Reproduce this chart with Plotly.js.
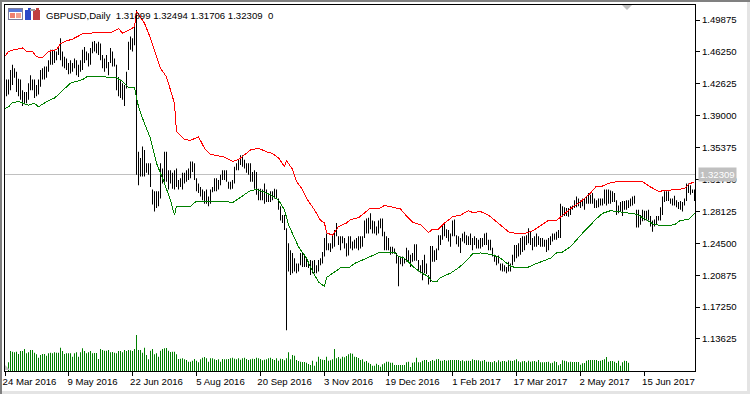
<!DOCTYPE html>
<html><head><meta charset="utf-8">
<script src="https://cdn.plot.ly/plotly-3.0.1.min.js"></script>
<style>
html,body{margin:0;padding:0;background:#fff;width:750px;height:394px;overflow:hidden}
#chart{position:absolute;left:0;top:0;width:750px;height:394px}
.js-line,.shapelayer path{shape-rendering:crispEdges}
#deco{position:absolute;left:0;top:0;pointer-events:none}
</style></head><body>
<div id="chart"></div>
<svg id="deco" width="750" height="394" shape-rendering="crispEdges">
<rect x="0" y="0" width="750" height="2" fill="#808080"/>
<rect x="0" y="0" width="2" height="394" fill="#808080"/>
<rect x="747" y="2" width="3" height="392" fill="#e4e4e4"/>
<rect x="2" y="391" width="748" height="3" fill="#e4e4e4"/>
<rect x="8.5" y="8.5" width="14" height="11" fill="#fff" stroke="#7c7c9c"/>
<rect x="9" y="9" width="13" height="3" fill="#5a78d8"/>
<rect x="10" y="13" width="5" height="5" fill="#f08070"/>
<rect x="16" y="13" width="5" height="5" fill="#f4a090"/>
<rect x="25" y="10" width="6" height="10" fill="#2a48c8"/>
<rect x="28" y="8" width="3" height="3" fill="#2a48c8"/>
<rect x="33" y="10" width="7" height="10" fill="#c04040"/>
<rect x="36" y="8" width="3" height="3" fill="#c04040"/>
<rect x="30" y="9" width="5" height="2" fill="#9a9a9a"/>
<polygon points="622,5 632,5 627,10" fill="#c0c0c0" shape-rendering="auto"/>
<polygon points="5,370 10,370 5,365" fill="#c0c0c0" shape-rendering="auto"/>
</svg>
<script>
// values in thousandths of a dollar; bar index 1..345
const highs=[1431,1431,1442,1448,1444,1440,1432,1431,1419,1417,
1417,1427,1436,1431,1431,1425,1431,1442,1444,1446,
1446,1453,1465,1465,1465,1463,1468,1478,1463,1457,
1455,1450,1453,1450,1455,1453,1448,1453,1465,1468,
1463,1461,1467,1474,1475,1472,1474,1472,1459,1455,
1459,1451,1467,1463,1455,1448,1434,1431,1427,1425,
1440,1474,1480,1478,1491,1510,
1349,1342,1355,1351,1336,1336,1336,1306,1304,1304,
1304,1336,1330,1349,1349,1328,1328,1325,1328,1330,
1317,1319,1325,1325,1328,1330,1338,1338,1336,1319,
1313,1309,1306,1304,1306,1298,1306,1309,1319,1319,
1317,1323,1328,1328,1328,1315,1315,1317,1332,1336,
1340,1345,1345,1340,1336,1336,
1336,1326,1328,1326,1307,1307,1306,1313,1306,1300,
1304,1304,1307,1306,1296,1287,1277,1277,1262,1245,
1237,1234,1228,1222,1222,1234,1234,1232,1228,1224,
1226,1225,1226,1220,1226,1228,1235,1251,1256,1245,
1245,1254,1260,1268,1253,1253,1253,1251,1245,1253,
1253,1247,1249,1251,1253,1253,1253,1271,1273,1274,
1279,1271,1270,1264,1271,1273,1273,1258,1253,1251,
1241,1241,1239,1234,1230,1230,1230,1228,1240,1237,
1232,1234,1244,1244,1226,1220,1226,1232,1222,1209,
1242,1242,1237,1239,1254,1254,1266,1268,1261,1260,
1256,1271,1272,1254,1253,1251,1256,1258,1254,1253,
1256,1251,1253,1251,1249,1251,1251,1256,1257,1249,
1249,1240,1232,1230,1231,
1222,1222,1220,1218,1224,1222,1232,1243,1243,1245,
1251,1253,1253,1254,1262,1258,1251,1253,1256,1253,
1251,1251,1249,1249,1251,1253,1256,1256,1258,1260,
1290,1287,1286,1285,1285,1287,1288,1294,1298,1296,
1294,1296,1296,1298,1302,1300,1302,1296,1294,1296,
1296,1296,1306,1306,1306,1305,1304,1302,1294,1288,
1292,1293,1293,1294,1294,1296,1298,1299,1283,1283,
1277,1283,1282,1282,1283,1276,1271,1272,1276,1276,
1286,1298,1304,1304,1304,1296,1296,1299,1294,1292,
1293,1292,1296,1313,1313,1311,1306,1306];
const lows=[1412,1414,1419,1425,1433,1417,1412,1408,1401,1403,
1404,1408,1419,1419,1410,1412,1414,1423,1431,1431,
1433,1440,1448,1448,1450,1453,1459,1453,1446,1444,
1442,1437,1438,1440,1444,1436,1434,1440,1442,1450,
1453,1446,1448,1461,1463,1461,1459,1453,1444,1440,
1444,1436,1450,1446,1446,1419,1412,1410,1408,1401,
1421,1442,1465,1463,1470,1323,
1311,1321,1321,1321,1325,1323,1309,1289,1281,1285,
1287,1296,1313,1315,1315,1306,1313,1307,1306,1309,
1306,1309,1306,1313,1315,1317,1319,1326,1317,1304,
1302,1298,1294,1290,1290,1287,1290,1303,1304,1304,
1306,1311,1317,1317,1315,1307,1306,1307,1313,1328,
1328,1334,1332,1330,1325,1323,
1315,1315,1307,1300,1294,1294,1294,1290,1292,1292,
1292,1294,1296,1296,1283,1271,1268,1260,1146,1213,
1209,1211,1213,1211,1213,1220,1218,1218,1218,1217,
1209,1211,1211,1211,1213,1220,1222,1230,1237,1237,
1235,1239,1241,1253,1243,1237,1245,1239,1230,1231,
1239,1237,1239,1239,1237,1239,1241,1251,1256,1256,
1261,1256,1256,1254,1256,1262,1253,1237,1237,1237,
1232,1233,1233,1222,1196,1221,1219,1222,1224,1224,
1218,1224,1225,1225,1213,1211,1203,1211,1210,1198,
1201,1224,1224,1226,1237,1243,1249,1253,1251,1247,
1241,1253,1253,1244,1241,1234,1247,1245,1243,1243,
1243,1237,1243,1239,1239,1239,1241,1243,1243,1237,
1237,1230,1224,1220,1222,
1214,1213,1213,1211,1213,1213,1220,1224,1228,1230,
1232,1235,1237,1243,1245,1243,1237,1241,1241,1243,
1241,1241,1241,1235,1237,1243,1247,1249,1249,1251,
1251,1275,1276,1276,1275,1277,1283,1285,1286,1287,
1285,1287,1283,1290,1290,1290,1290,1285,1285,1286,
1288,1288,1290,1288,1290,1290,1292,1292,1277,1279,
1281,1276,1283,1283,1285,1287,1288,1290,1263,1263,
1266,1270,1271,1271,1271,1264,1258,1264,1267,1271,
1271,1277,1292,1293,1293,1290,1288,1288,1286,1284,
1283,1281,1288,1293,1302,1300,1302,1293];
const barIndex=highs.map((_,k)=>k+1);

const upperIdx=[0,2,5,9,11,14,16,19,22,26,28,31,34,39,44,48,53,57,59,62,65,66,70,73,76,78,81,85,86,90,93,97,100,103,110,114,117,123,127,131,134,137,140,141,144,146,149,151,155,158,160,161,164,167,171,173,177,180,183,187,190,194,198,201,204,208,212,214,217,220,224,228,232,234,238,242,245,248,252,256,260,264,268,272,276,279,284,288,293,296,298,302,306,311,315,319,323,327,331,335,340,342,345];
const upperVal=[1457,1463,1465,1467,1463,1463,1457,1456,1463,1465,1472,1475,1477,1483,1484,1484,1484,1489,1484,1487,1491,1509,1495,1478,1457,1444,1434,1404,1372,1363,1362,1366,1353,1346,1343,1338,1340,1351,1353,1349,1347,1342,1332,1339,1329,1315,1306,1296,1283,1271,1268,1257,1254,1264,1268,1272,1274,1280,1285,1284,1288,1286,1284,1276,1269,1266,1257,1261,1261,1268,1275,1277,1282,1280,1281,1277,1271,1266,1258,1256,1256,1259,1265,1271,1271,1277,1286,1292,1302,1310,1309,1313,1315,1315,1315,1315,1309,1304,1305,1306,1307,1312,1315];
const lowerIdx=[0,2,4,7,12,15,17,21,25,29,33,39,41,45,51,56,59,62,65,66,67,70,73,76,79,83,85,86,89,93,96,102,106,110,114,118,123,126,129,133,137,140,142,144,147,151,154,157,160,161,164,168,172,175,180,184,188,195,197,200,204,208,212,214,216,218,223,227,231,234,238,244,248,253,256,261,266,273,276,279,283,288,292,296,299,303,307,316,320,325,331,335,338,342,345];
const lowerVal=[1398,1400,1405,1406,1402,1404,1400,1406,1410,1419,1427,1431,1434,1435,1434,1433,1429,1422,1422,1410,1400,1381,1364,1336,1319,1294,1277,1287,1287,1287,1293,1293,1292,1293,1291,1297,1305,1306,1304,1300,1294,1283,1266,1256,1241,1228,1213,1201,1196,1206,1211,1217,1217,1222,1227,1231,1235,1235,1230,1228,1219,1212,1207,1201,1201,1206,1211,1217,1225,1233,1234,1232,1228,1219,1217,1217,1222,1228,1234,1235,1241,1254,1264,1273,1279,1282,1281,1278,1273,1266,1265,1266,1271,1272,1279];

// tick volume, relative units, bar index 2..311
const volumes=[26,60,58,56,58,51,60,60,66,53,
56,63,63,55,50,40,48,51,51,46,
53,55,53,56,55,55,70,60,51,53,
53,53,43,53,56,43,56,68,60,53,
56,60,53,54,54,36,66,63,61,61,
63,56,57,55,53,60,60,56,63,60,
63,62,60,66,108,
63,63,55,70,48,35,61,66,50,53,
43,61,66,68,69,61,57,58,58,50,
36,37,38,35,33,28,28,31,36,31,
26,35,40,42,38,28,38,38,35,33,
35,28,36,35,35,36,38,40,37,35,38,
34,38,40,36,33,35,37,36,40,38,
36,32,34,35,38,40,36,33,38,31,
37,36,32,38,56,35,
48,46,33,30,28,27,27,25,21,18,31,16,28,43,36,34,33,43,31,32,35,66,38,42,37,43,41,45,50,53,52,43,42,39,33,35,28,30,25,21,16,16,22,
18,13,20,23,28,28,25,25,18,18,18,18,18,18,26,28,12,25,26,40,26,26,31,33,33,27,30,33,31,35,36,31,31,33,31,32,33,33,33,33,33,30,32,29,31,31,30,35,33,32,32,29,31,33,28,28,27,26,30,26,32,28,30,30,28,32,31,30,32,35,29,26,29,30,26,31,28,29,30,28,33,26,26,26,27,28,23,25,29,27,17,21,32,31,29,26,28,27,27,27,27,19,23,24,31,33,33,33,33,33,30,31,33,35,42,28,30,30,28,24,31,16,26,31,30,25];
const volumeIndex=volumes.map((_,k)=>k+2);

const tickIdx=[0.5,32,64,96,128,160,192,224,256,288,320];
const tickText=["24 Mar 2016","9 May 2016","22 Jun 2016","5 Aug 2016","20 Sep 2016","3 Nov 2016","19 Dec 2016","1 Feb 2017","17 Mar 2017","2 May 2017","15 Jun 2017"];
const priceTicks=[1.49875,1.4625,1.42625,1.39,1.35375,1.3175,1.28125,1.245,1.20875,1.1725,1.13625];
const symbolHeader="GBPUSD,Daily\u00a0\u00a01.31899 1.32494 1.31706 1.32309\u00a0\u00a00";
const lastPrice=1.32309;

const K=v=>v/1000;
const FONT="Liberation Sans";
const SIZE=9.6;
const traces=[
 {type:"bar",x:volumeIndex,y:volumes,width:0.5,yaxis:"y2",marker:{color:"#008000",line:{width:0}},hoverinfo:"skip"},
 {type:"scatter",mode:"lines",x:upperIdx,y:upperVal.map(K),line:{color:"#ff0000",width:1},hoverinfo:"skip"},
 {type:"scatter",mode:"lines",x:lowerIdx,y:lowerVal.map(K),line:{color:"#008000",width:1},hoverinfo:"skip"},
 {type:"bar",x:barIndex,base:lows.map(K),y:highs.map((h,k)=>K(h-lows[k])),width:0.5,marker:{color:"#000",line:{width:0}},hoverinfo:"skip"}
];
const layout={
 width:750,height:394,showlegend:false,barmode:"overlay",
 paper_bgcolor:"rgba(0,0,0,0)",plot_bgcolor:"#fff",
 margin:{l:5,r:55,t:5,b:23,pad:0},
 font:{family:FONT,size:SIZE,color:"#000"},
 xaxis:{range:[0.25,345.25],tickmode:"array",tickvals:tickIdx,ticktext:tickText,ticks:"outside",ticklen:4,tickwidth:1,tickcolor:"#000",
  showline:true,linecolor:"#000",linewidth:1,mirror:true,showgrid:false,zeroline:false,tickangle:0,ticklabelshift:24,ticklabelstandoff:-3,ticklabeloverflow:"allow",tickfont:{family:FONT,size:SIZE,color:"#000"}},
 yaxis:{side:"right",range:[1.0998,1.5158],tickmode:"array",tickvals:priceTicks,tickformat:".5f",ticks:"outside",ticklen:4,tickwidth:1,tickcolor:"#000",
  showline:true,linecolor:"#000",linewidth:1,mirror:true,showgrid:false,zeroline:false,tickfont:{family:FONT,size:SIZE,color:"#000"}},
 yaxis2:{overlaying:"y",side:"right",range:[0,1098],visible:false,showgrid:false,zeroline:false},
 shapes:[{type:"line",xref:"paper",x0:0,x1:1,yref:"y",y0:lastPrice,y1:lastPrice,line:{color:"#c0c0c0",width:1},layer:"below"}],
 annotations:[
  {xref:"paper",yref:"paper",x:39/690,y:1-10/366,xanchor:"left",yanchor:"middle",text:symbolHeader,showarrow:false,font:{family:FONT,size:SIZE,color:"#000"}},
  {xref:"paper",yref:"y",x:1+3/690,y:lastPrice,xanchor:"left",yanchor:"middle",text:lastPrice.toFixed(5),showarrow:false,bgcolor:"#c0c0c0",borderpad:1,font:{family:FONT,size:SIZE,color:"#fff"}}
 ]
};
Plotly.newPlot("chart",traces,layout,{displayModeBar:false,staticPlot:true});
</script></body></html>
